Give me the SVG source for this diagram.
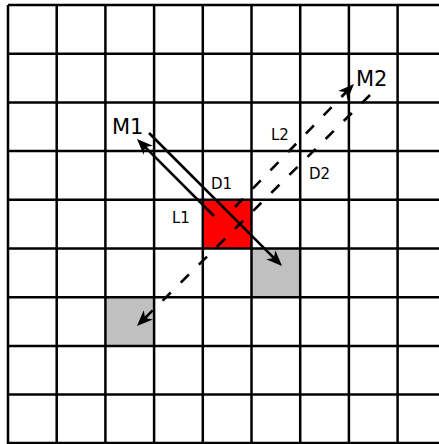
<svg xmlns="http://www.w3.org/2000/svg" width="439" height="444" viewBox="0 0 439 444">
<style>
.grid line{stroke:#000;stroke-width:2.5}
.conn line{stroke:#000;stroke-width:2.6;fill:none}
.dash{stroke-dasharray:11.5,14}
.big{font-family:"DejaVu Sans",sans-serif;font-size:21px;fill:#000}
.small{font-family:"DejaVu Sans",sans-serif;font-size:15px;fill:#000}
</style>
<defs>
<marker id="ah" markerUnits="userSpaceOnUse" orient="auto" overflow="visible" refX="0" refY="0" markerWidth="20" markerHeight="20">
<path d="M6,0 L-10,-6.5 L-5.5,0 L-10,6.5 Z" fill="#000"/>
</marker>
</defs>
<rect x="0" y="0" width="439" height="444" fill="#fff"/>
<g id="cell-red"><rect x="202.8" y="199.8" width="48.7" height="48.7" fill="#ff0000"/></g>
<g id="cell-gray1"><rect x="251.5" y="248.5" width="48.7" height="48.7" fill="#c0c0c0"/></g>
<g id="cell-gray2"><rect x="105.4" y="297.2" width="48.7" height="48.7" fill="#c0c0c0"/></g>
<g id="grid" class="grid">
<line x1="8" y1="5" x2="8" y2="444"/>
<line x1="56.7" y1="5" x2="56.7" y2="444"/>
<line x1="105.4" y1="5" x2="105.4" y2="444"/>
<line x1="154.1" y1="5" x2="154.1" y2="444"/>
<line x1="202.8" y1="5" x2="202.8" y2="444"/>
<line x1="251.5" y1="5" x2="251.5" y2="444"/>
<line x1="300.2" y1="5" x2="300.2" y2="444"/>
<line x1="348.9" y1="5" x2="348.9" y2="444"/>
<line x1="397.6" y1="5" x2="397.6" y2="444"/>
<line x1="8" y1="5" x2="439" y2="5"/>
<line x1="8" y1="53.7" x2="439" y2="53.7"/>
<line x1="8" y1="102.4" x2="439" y2="102.4"/>
<line x1="8" y1="151.1" x2="439" y2="151.1"/>
<line x1="8" y1="199.8" x2="439" y2="199.8"/>
<line x1="8" y1="248.5" x2="439" y2="248.5"/>
<line x1="8" y1="297.2" x2="439" y2="297.2"/>
<line x1="8" y1="345.9" x2="439" y2="345.9"/>
<line x1="8" y1="394.6" x2="439" y2="394.6"/>
<line x1="8" y1="443" x2="439" y2="443"/>
</g>
<g id="connectors" class="conn">
<line x1="149" y1="133" x2="277.8" y2="261.8" marker-end="url(#ah)"/>
<line x1="214" y1="216" x2="141.2" y2="143.2" marker-end="url(#ah)"/>
<line class="dash" x1="235" y1="207" x2="349.8" y2="88.3" marker-end="url(#ah)"/>
<line class="dash" x1="370" y1="95" x2="141.2" y2="321.8" marker-end="url(#ah)"/>
</g>
<g id="label-M1"><text class="big" x="112" y="134">M1</text></g>
<g id="label-M2"><text class="big" x="356" y="86">M2</text></g>
<g id="label-L1"><text class="small" x="172" y="223">L1</text></g>
<g id="label-D1"><text class="small" x="211" y="189">D1</text></g>
<g id="label-L2"><text class="small" x="271" y="140">L2</text></g>
<g id="label-D2"><text class="small" x="309" y="179">D2</text></g>
</svg>
